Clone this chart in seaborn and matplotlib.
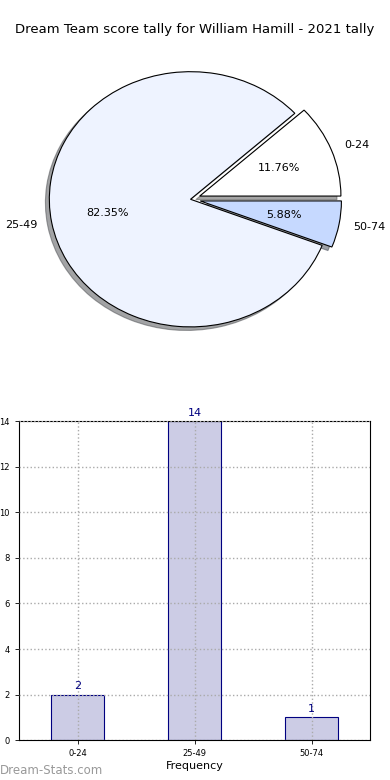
import matplotlib
matplotlib.use("Agg")
import matplotlib.pyplot as plt
import seaborn as sns
import pandas as pd

categories = ["0-24", "25-49", "50-74"]
counts = [2, 14, 1]
pie_colors = ["#FFFFFF", "#EEF3FF", "#C6D9FF"]
explode = [0.07, 0.0, 0.07]
yticks = [0, 2, 4, 6, 8, 10, 12, 14]

sns.set_style("white")
plt.rcParams['font.family'] = ['DejaVu Sans']
plt.rcParams['text.color'] = 'black'
plt.rcParams['axes.labelcolor'] = 'black'
plt.rcParams['xtick.color'] = 'black'
plt.rcParams['ytick.color'] = 'black'

fig = plt.figure(figsize=(3.9, 7.8), dpi=100)

# Pie
ax1 = fig.add_axes([0.036, 0.540, 0.905, 0.409])
wedges, texts, autotexts = ax1.pie(
    counts, labels=categories, colors=pie_colors, explode=explode,
    autopct="%1.2f%%", startangle=0, shadow=True,
    labeldistance=1.1, pctdistance=0.6,
    wedgeprops=dict(edgecolor="black", linewidth=0.8),
    textprops=dict(fontsize=8, color="black"))
ax1.set_aspect("auto")
ax1.set_xlim(-1.25, 1.25)
ax1.set_ylim(-1.25, 1.25)
fig.text(0.5, 0.962, "Dream Team score tally for William Hamill - 2021 tally",
         ha="center", va="center", fontsize=9.5, color="black")

# Bar
ax2 = fig.add_axes([0.049, 0.051, 0.9, 0.409])
df = pd.DataFrame({"cat": categories, "count": counts})
sns.barplot(data=df, x="cat", y="count", ax=ax2, color="#CCCCE5",
            saturation=1, edgecolor="navy", linewidth=0.8, width=0.45, zorder=2)
ax2.set_xlim(-0.5, 2.5)
ax2.set_ylim(0, 14)
ax2.set_yticks(yticks)
ax2.tick_params(axis="both", labelsize=6, length=3, width=0.6, direction="out",
                left=True, bottom=True, colors="black")
ax2.grid(True, linestyle=":", color="#AAAAAA", linewidth=1.0, zorder=0)
ax2.set_axisbelow(False)
for side in ["left", "right", "top", "bottom"]:
    ax2.spines[side].set_visible(True)
    ax2.spines[side].set_color("black")
    ax2.spines[side].set_linewidth(0.8)
for i, v in enumerate(counts):
    ax2.text(i, v + 0.15, str(v), ha="center", va="bottom", fontsize=8, color="navy")
ax2.set_xlabel("Frequency", fontsize=8, labelpad=2)
ax2.set_ylabel("Score Tally", fontsize=8, labelpad=3)

fig.text(0.0, 0.012, "Dream-Stats.com", ha="left", va="center", fontsize=8.5, color="#999999")

fig.savefig("out.png", dpi=100)
